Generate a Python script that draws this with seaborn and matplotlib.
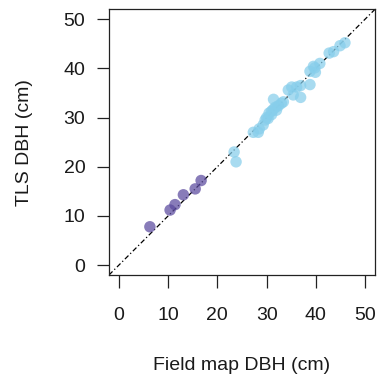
import matplotlib
matplotlib.use("Agg")
import matplotlib.pyplot as plt
import seaborn as sns
import pandas as pd

# small trees (purple)
small_field = [6.3, 10.4, 11.4, 13.1, 15.5, 16.7]
small_tls = [7.8, 11.2, 12.3, 14.3, 15.5, 17.2]

# large trees (light blue)
large_field = [23.4, 23.8, 27.3, 28.5, 28.3, 29.3, 29.7, 30.0, 30.5, 31.0,
               31.4, 31.8, 32.4, 33.0, 33.4, 31.4, 30.3, 31.0, 32.0, 34.4,
               35.1, 36.1, 36.9, 35.4, 36.9, 38.8, 38.8, 39.8, 39.9, 40.8,
               39.5, 42.7, 43.6, 44.9, 45.9]
large_tls = [23.0, 21.0, 27.0, 27.7, 27.0, 28.5, 29.5, 30.0, 30.9, 31.3,
             31.7, 32.1, 32.4, 32.9, 33.2, 33.7, 29.8, 30.6, 31.5, 35.6,
             36.2, 36.2, 36.5, 34.6, 34.1, 36.7, 39.4, 40.1, 39.2, 41.0,
             40.4, 43.1, 43.4, 44.6, 45.2]

ticks = [0, 10, 20, 30, 40, 50]

df = pd.DataFrame({
    "field": small_field + large_field,
    "tls": small_tls + large_tls,
    "group": ["small"] * len(small_field) + ["large"] * len(large_field),
})

sns.set_style("white")
plt.rcParams['font.family'] = ['Liberation Sans', 'DejaVu Sans']

fig = plt.figure(figsize=(3.79, 3.77), dpi=100)
ax = fig.add_axes([0.2876, 0.2706, 0.7018, 0.7047])

ax.plot([-2, 52], [-2, 52], color="black", lw=0.9, linestyle=(0, (4, 2, 1, 2)), zorder=1)

sns.scatterplot(data=df, x="field", y="tls", hue="group",
                palette={"small": "#5b4a9e", "large": "#87CEEB"},
                s=68, alpha=0.72, edgecolor="none", legend=False, ax=ax, zorder=2)

ax.set_xlim(-2, 52)
ax.set_ylim(-2, 52)
ax.set_xticks(ticks)
ax.set_yticks(ticks)
ax.tick_params(axis="both", direction="out", length=9, width=0.9, color="#222222",
               labelsize=14, labelcolor="#1a1a1a", bottom=True, left=True)
ax.tick_params(axis="x", pad=14)
ax.tick_params(axis="y", pad=8)
for sp in ax.spines.values():
    sp.set_color("#222222")
    sp.set_linewidth(0.9)

ax.set_xlabel("Field map DBH (cm)", fontsize=14, labelpad=24, color="#1a1a1a")
ax.set_ylabel("TLS DBH (cm)", fontsize=14, labelpad=22, color="#1a1a1a")

fig.savefig("out.png", dpi=100)
